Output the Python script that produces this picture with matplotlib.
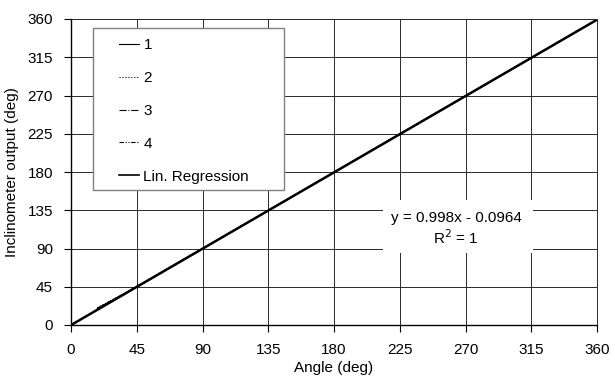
import matplotlib
matplotlib.use("Agg")
import matplotlib.pyplot as plt
from matplotlib.patches import Rectangle

plt.rcParams["font.family"] = ["Liberation Sans", "DejaVu Sans"]
plt.rcParams["font.size"] = 11

# measured angles and inclinometer readings (deg), four runs
angles = [18, 36, 54, 72, 90, 108, 126, 144, 162, 180,
          198, 216, 234, 252, 270, 288, 306, 324, 342, 360]
run1 = [19.6, 36.3, 53.8, 71.9, 89.7, 107.9, 125.8, 143.6, 161.7, 179.6,
        197.5, 215.6, 233.5, 251.4, 269.4, 287.3, 305.3, 323.3, 341.2, 359.2]
run2 = [20.2, 36.8, 54.4, 72.3, 90.1, 108.2, 126.0, 143.9, 161.9, 179.8,
        197.8, 215.9, 233.7, 251.6, 269.6, 287.5, 305.4, 323.4, 341.3, 359.3]
run3 = [19.1, 35.9, 53.5, 71.6, 89.5, 107.6, 125.5, 143.4, 161.4, 179.4,
        197.3, 215.4, 233.3, 251.2, 269.2, 287.1, 305.1, 323.1, 341.0, 359.1]
run4 = [19.8, 36.5, 54.1, 72.1, 89.9, 108.0, 125.9, 143.8, 161.8, 179.7,
        197.6, 215.7, 233.6, 251.5, 269.5, 287.4, 305.3, 323.3, 341.2, 359.2]
slope, intercept = 0.998, -0.0964
reg_x = [0, 360]
ticks = [0, 45, 90, 135, 180, 225, 270, 315, 360]

fig = plt.figure(figsize=(6.15, 3.79), dpi=100)
ax = fig.add_axes([71 / 615, 54 / 379, 526 / 615, 306 / 379])

grid_c = "#2a2a2a"
ax.plot(angles, run1, color="k", lw=0.8, ls="-", label="1")
ax.plot(angles, run2, color="k", lw=0.8, ls=":", label="2")
ax.plot(angles, run3, color="k", lw=0.8, ls="-.", label="3")
ax.plot(angles, run4, color="k", lw=0.8, ls=(0, (4, 1.5, 1, 1.5, 1, 1.5)), label="4")
ax.plot(reg_x, [slope * x + intercept for x in reg_x], color="k", lw=1.8,
        label="Lin. Regression")

ax.set_xlim(0, 360)
ax.set_ylim(0, 360)
ax.set_xticks(ticks)
ax.set_yticks(ticks)
ax.grid(True, color=grid_c, lw=0.7)
ax.set_axisbelow(True)
ax.tick_params(direction="out", length=5, width=0.8, pad=8, labelsize=11)
for s in ("left", "bottom"):
    ax.spines[s].set_color("k")
    ax.spines[s].set_linewidth(1.0)
for s in ("top", "right"):
    ax.spines[s].set_color(grid_c)
    ax.spines[s].set_linewidth(0.7)

ax.set_xlabel("Angle (deg)", fontsize=11, labelpad=3)
ax.set_ylabel("Inclinometer output (deg)", fontsize=11, labelpad=6)

# legend frame drawn separately so it can be wider than the entries
ax.add_patch(Rectangle((22 / 526, 135 / 306), 191 / 526, 162 / 306,
                       transform=ax.transAxes, facecolor="white",
                       edgecolor="#808080", lw=1.0, zorder=5))
leg = ax.legend(loc="upper left", bbox_to_anchor=(48 / 526, 287 / 306),
                frameon=False, borderpad=0, borderaxespad=0,
                handlelength=1.3, handletextpad=0.3, labelspacing=1.24,
                fontsize=11)
leg.set_zorder(6)
leg.get_lines()[-1].set_linewidth(1.2)

# regression equation on a white patch
ax.add_patch(Rectangle((312 / 526, 72 / 306), 150 / 526, 53 / 306,
                       transform=ax.transAxes, facecolor="white",
                       edgecolor="none", zorder=5))
ax.text(385 / 526, 107 / 306, "y = 0.998x - 0.0964", transform=ax.transAxes,
        ha="center", va="center", fontsize=11, zorder=6)
ax.text(385 / 526, 87 / 306, "R$^2$ = 1", transform=ax.transAxes,
        ha="center", va="center", fontsize=11, zorder=6)

fig.savefig("out.png", dpi=100)
